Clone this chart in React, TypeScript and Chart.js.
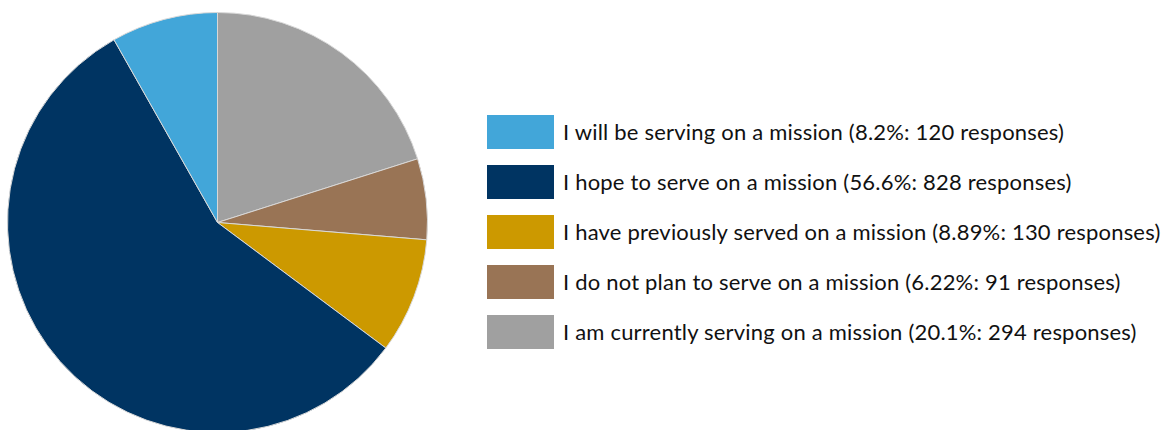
import React, { useEffect, useRef } from "react";
import { Chart, registerables } from "chart.js";

Chart.register(...registerables);

const labels = [
  "I will be serving on a mission",
  "I hope to serve on a mission",
  "I have previously served on a mission",
  "I do not plan to serve on a mission",
  "I am currently serving on a mission",
];
const responses = [120, 828, 130, 91, 294];
const percents = ["8.2%", "56.6%", "8.89%", "6.22%", "20.1%"];
const colors = ["#42A6D9", "#003462", "#CC9900", "#997455", "#A0A0A0"];

const FONT = "Lato, 'Open Sans', sans-serif";

export default function App() {
  const ref = useRef<HTMLCanvasElement | null>(null);

  useEffect(() => {
    if (!ref.current) return;
    // Pie is drawn counter-clockwise from the top in the reference; Chart.js draws
    // clockwise, so feed the slices in reverse order.
    const pieLabels = [...labels].reverse();
    const pieData = [...responses].reverse();
    const pieColors = [...colors].reverse();
    const chart = new Chart(ref.current, {
      type: "pie",
      data: {
        labels: pieLabels,
        datasets: [
          {
            data: pieData,
            backgroundColor: pieColors,
            borderColor: "#d8d8d8",
            borderWidth: 1,
          },
        ],
      },
      options: {
        animation: false,
        responsive: true,
        maintainAspectRatio: false,
        layout: { padding: { left: 7, right: 7, top: 12, bottom: 12 } },
        plugins: {
          legend: { display: false },
          tooltip: { enabled: false },
        },
      },
    });
    return () => chart.destroy();
  }, []);

  return (
    <div
      style={{
        position: "fixed",
        left: 0,
        top: 0,
        width: 1161,
        height: 430,
        overflow: "hidden",
        background: "#ffffff",
      }}
    >
      <div style={{ position: "absolute", left: 0, top: 0, width: 435, height: 445 }}>
        <canvas ref={ref} />
      </div>
      {labels.map((lab, i) => {
        const cy = 132 + 50.1 * i;
        return (
          <div key={lab}>
            <div
              style={{
                position: "absolute",
                left: 487,
                top: cy - 17,
                width: 67,
                height: 34,
                background: colors[i],
              }}
            />
            <div
              style={{
                position: "absolute",
                left: 563,
                top: cy - 15,
                height: 30,
                lineHeight: "30px",
                fontFamily: FONT,
                fontSize: 22,
                letterSpacing: "0.2px",
                color: "#111111",
                whiteSpace: "nowrap",
              }}
            >
              {`${lab} (${percents[i]}: ${responses[i]} responses)`}
            </div>
          </div>
        );
      })}
    </div>
  );
}
